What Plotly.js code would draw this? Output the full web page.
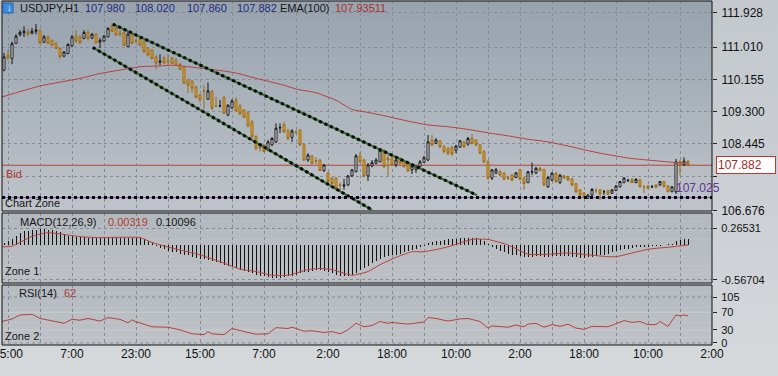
<!DOCTYPE html>
<html><head><meta charset="utf-8">
<script src="https://cdn.plot.ly/plotly-3.0.1.min.js"></script>
<style>
html,body{margin:0;padding:0;}
body{width:778px;height:376px;overflow:hidden;background:linear-gradient(to bottom,#c3c8cd 0%,#ccd0d4 55%,#d6d9dc 100%);}
#chart{width:778px;height:376px;}
</style></head><body><div id="chart"></div>
<script>
// ---------- DATA (USDJPY H1), candle index -1 .. 170 ----------
const openP = [110.40,110.80,110.71,111.11,111.33,111.39,111.41,111.38,111.43,111.44,111.14,111.27,111.18,111.11,110.97,110.77,110.84,111.04,111.30,111.27,111.24,111.40,111.25,111.35,111.14,111.17,111.28,111.57,111.50,111.38,111.39,111.02,111.35,111.18,111.21,111.15,110.99,110.93,110.75,110.61,110.71,110.64,110.71,110.65,110.55,110.47,110.14,110.11,109.96,109.74,109.85,109.63,109.83,109.45,109.45,109.68,109.21,109.40,109.61,109.45,109.34,109.27,109.03,108.64,108.36,108.42,108.28,108.42,108.50,108.87,108.95,108.81,108.62,108.76,108.81,108.42,108.02,108.13,108.00,108.02,107.74,107.68,107.54,107.54,107.36,107.33,107.36,107.60,107.71,108.13,108.02,107.60,107.86,107.93,107.97,108.28,108.07,108.06,107.89,108.06,107.97,107.95,107.76,107.77,107.84,107.96,108.02,108.55,108.46,108.53,108.37,108.33,108.35,108.28,108.36,108.50,108.44,108.59,108.55,108.42,108.24,107.97,107.54,107.67,107.71,107.67,107.55,107.62,107.56,107.77,107.54,107.42,107.70,107.67,107.80,107.77,107.31,107.49,107.67,107.42,107.60,107.58,107.52,107.40,107.23,107.15,107.01,107.09,107.21,107.23,107.18,107.21,107.14,107.21,107.31,107.42,107.47,107.51,107.42,107.49,107.31,107.33,107.31,107.36,107.36,107.45,107.33,107.18,107.18,107.97,107.89,107.98];
const highP = [110.86,110.93,111.15,111.35,111.46,111.56,111.49,111.51,111.62,111.49,111.33,111.33,111.22,111.14,111.01,110.90,111.11,111.33,111.46,111.33,111.46,111.46,111.38,111.38,111.25,111.33,111.54,111.64,111.54,111.46,111.43,111.41,111.38,111.22,111.25,111.19,111.01,110.96,110.80,110.82,110.77,110.82,110.75,110.72,110.59,110.51,110.16,110.14,109.98,109.77,110.00,110.07,109.87,109.69,109.61,109.71,109.50,109.63,109.68,109.50,109.37,109.32,109.08,108.68,108.47,108.44,108.55,108.63,108.99,108.99,109.03,108.84,108.84,108.81,108.84,108.44,108.20,108.15,108.10,108.05,107.91,107.70,107.57,107.57,107.42,107.52,107.62,107.78,108.18,108.24,108.05,107.94,108.02,108.07,108.31,108.31,108.15,108.13,108.07,108.10,108.02,107.97,107.89,107.89,108.02,108.13,108.68,108.68,108.60,108.55,108.42,108.36,108.39,108.42,108.55,108.52,108.63,108.71,108.57,108.44,108.28,108.02,107.78,107.81,107.76,107.70,107.60,107.65,107.70,107.78,107.57,107.73,107.95,107.84,107.84,107.78,107.60,107.70,107.70,107.65,107.62,107.60,107.54,107.41,107.25,107.17,107.12,107.28,107.28,107.25,107.23,107.23,107.25,107.36,107.46,107.57,107.52,107.54,107.54,107.52,107.36,107.36,107.36,107.38,107.46,107.46,107.36,107.33,108.05,108.02,108.09,108.02];
const lowP = [110.37,110.67,110.56,111.09,111.30,111.28,111.30,111.35,111.35,111.09,111.12,111.09,111.04,110.96,110.71,110.74,110.82,111.01,111.12,111.09,111.22,111.19,111.22,111.11,110.98,111.14,111.27,111.41,111.30,111.30,111.04,111.01,111.09,111.12,111.04,110.85,110.77,110.69,110.42,110.53,110.56,110.51,110.56,110.51,110.40,110.03,109.79,109.80,109.66,109.55,109.37,109.61,109.34,109.42,109.41,109.24,109.18,109.38,109.30,109.21,109.13,108.89,108.60,108.28,108.24,108.23,108.26,108.39,108.47,108.73,108.73,108.55,108.50,108.71,108.39,107.99,107.97,107.91,107.91,107.73,107.70,107.41,107.36,107.23,107.18,107.23,107.33,107.57,107.70,107.94,107.57,107.47,107.83,107.91,107.97,107.81,107.60,107.86,107.83,107.91,107.83,107.70,107.65,107.68,107.83,107.94,107.99,108.39,108.44,108.34,108.20,108.15,108.13,108.20,108.34,108.34,108.40,108.44,108.39,108.18,107.94,107.49,107.49,107.65,107.60,107.49,107.49,107.46,107.54,107.49,107.23,107.41,107.62,107.65,107.73,107.33,107.28,107.46,107.41,107.39,107.52,107.46,107.33,107.15,107.07,107.01,106.99,107.07,107.15,106.96,107.09,107.09,107.12,107.20,107.30,107.41,107.44,107.41,107.41,107.30,107.15,107.25,107.28,107.28,107.33,107.30,107.17,107.17,107.12,107.62,107.86,107.86];
const closeP = [110.75,110.72,111.10,111.30,111.40,111.43,111.35,111.43,111.46,111.12,111.28,111.11,111.06,110.97,110.75,110.88,111.08,111.28,111.17,111.13,111.40,111.24,111.35,111.12,111.19,111.30,111.50,111.43,111.33,111.35,111.06,111.35,111.11,111.17,111.06,110.89,110.80,110.71,110.58,110.64,110.59,110.63,110.58,110.53,110.42,110.05,110.00,109.92,109.68,109.61,109.84,109.85,109.39,109.44,109.46,109.26,109.47,109.58,109.32,109.24,109.15,108.92,108.64,108.33,108.34,108.24,108.50,108.59,108.86,108.88,108.77,108.59,108.79,108.75,108.42,108.02,108.15,107.93,107.99,107.74,107.89,107.45,107.40,107.27,107.35,107.36,107.60,107.76,108.13,107.97,107.60,107.89,107.95,108.02,108.28,107.84,108.02,107.89,108.02,107.93,107.84,107.73,107.86,107.86,107.97,108.08,108.50,108.42,108.55,108.37,108.24,108.20,108.18,108.39,108.53,108.37,108.59,108.46,108.42,108.20,107.97,107.54,107.76,107.76,107.62,107.51,107.54,107.49,107.68,107.51,107.40,107.71,107.71,107.80,107.74,107.36,107.56,107.67,107.45,107.62,107.54,107.49,107.36,107.18,107.09,107.03,107.09,107.24,107.21,107.12,107.18,107.12,107.23,107.33,107.45,107.54,107.48,107.42,107.51,107.31,107.31,107.27,107.31,107.30,107.45,107.31,107.18,107.31,107.97,107.89,107.99,107.88];

// EMA(100) read at sample candles
const emaIdx = [-1.5,8,18,23,28,33,38,41,45,50,55,58,61,69,72,77,82,86,90,95,100,105,110,115,120,125,130,135,140,148,156,162,166,170];
const emaVal = [109.69,109.98,110.18,110.31,110.40,110.49,110.51,110.53,110.49,110.43,110.36,110.30,110.21,110.00,109.90,109.80,109.60,109.36,109.28,109.17,109.05,108.95,108.90,108.83,108.74,108.66,108.57,108.50,108.39,108.20,108.06,108.00,107.96,107.94];

// MACD(12,26,9): main (histogram) per candle, signal line at sample candles
const macdMain = [0.04,0.07,0.10,0.15,0.19,0.22,0.23,0.24,0.25,0.26,0.26,0.25,0.24,0.23,0.21,0.18,0.15,0.14,0.13,0.13,0.13,
 0.12,0.13,0.12,0.12,0.13,0.13,0.13,0.12,0.12,0.12,0.12,0.12,0.12,
 0.11,0.09,0.06,0.03,
 -0.01,-0.05,-0.07,-0.09,-0.11,-0.12,-0.14,-0.16,-0.17,-0.19,-0.21,-0.22,-0.23,-0.24,-0.26,-0.28,-0.30,-0.32,-0.34,-0.36,-0.38,-0.40,-0.42,-0.43,-0.45,-0.48,-0.50,-0.51,-0.52,-0.53,-0.54,-0.53,-0.52,-0.51,-0.50,-0.48,-0.46,-0.44,-0.43,-0.42,-0.41,-0.40,-0.42,-0.44,-0.46,-0.48,-0.50,-0.51,-0.51,-0.49,-0.45,-0.41,-0.38,-0.34,-0.30,-0.26,-0.22,-0.19,-0.18,-0.17,-0.16,-0.14,-0.12,-0.10,-0.08,-0.06,-0.04,-0.01,
 0.03,0.05,0.06,0.07,0.08,0.09,0.10,0.10,0.11,0.11,0.12,0.12,0.11,0.10,0.06,0.01,-0.04,-0.07,-0.10,-0.12,-0.14,-0.16,-0.17,-0.18,-0.19,-0.19,-0.19,-0.18,-0.18,-0.19,-0.19,-0.18,-0.18,-0.18,-0.18,-0.18,-0.19,-0.20,-0.21,-0.21,-0.20,-0.19,-0.18,-0.17,-0.16,-0.14,-0.12,-0.10,-0.08,-0.07,-0.06,-0.05,-0.04,-0.04,-0.03,-0.03,-0.02,-0.02,-0.01,0.00,0.01,0.02,0.06,0.08,0.09,0.10];
const signalIdx = [-1.5,1,6,10,15,19,23,33,36,41,48,53,58,62,66,70,75,78,81,86,90,93,97,101,104,110,116,120,125,130,135,140,145,150,152,160,166,170];
const signalVal = [-0.03,-0.02,0.14,0.20,0.16,0.13,0.12,0.12,0.04,-0.05,-0.16,-0.27,-0.39,-0.43,-0.49,-0.49,-0.40,-0.38,-0.40,-0.49,-0.43,-0.32,-0.20,-0.11,-0.11,-0.03,0.09,0.09,0.00,-0.15,-0.15,-0.13,-0.16,-0.19,-0.19,-0.07,-0.03,0.00];

// RSI(14) at sample candles
const rsiIdx = [-1.5,1,3,6,8,10,14,16,18,20,23,25,28,30,31,32,33,36,40,43,46,49,50,51,54,56,58,60,62,65,67,70,71,74,76,79,81,83,85,87,89,91,93,95,96,100,104,105,107,110,113,115,118,120,121,125,127,129,130,132,134,136,138,140,142,144,146,150,154,156,158,160,162,163,165,167,168,169,170];
const rsiVal = [49,55,64,65.5,56,52,45,54,52,56,50,58,54,46,53,48,46,37,36,30,21,19,26,21,19,33,28,24,20,21,35,33,36,27,28,24,26,21,30,45,37,40,49,45,47,43,48,58,56,50,55,56,49,34,39,36,41,37,43,45,36,42,38,43,34,31,38,37,51,47,49,42,42,49,38,64,62,64,62];

// Levels and trend lines
const bidPrice = 107.882;
const zonePrice = 107.025;
const upperTrendIdx = [26.2, 117.2], upperTrendPx = [111.62, 107.09];
const lowerTrendIdx = [21.2, 91.0],  lowerTrendPx = [111.00, 106.70];

// Axis labels
const timeLabels = ['15:00','7:00','23:00','15:00','7:00','2:00','18:00','10:00','2:00','18:00','10:00','2:00'];
const priceTicks = [111.928,111.010,110.155,109.300,108.445,107.590,106.676];
const priceTickText = ['111.928','111.010','110.155','109.300','108.445','','106.676'];
const macdTicks = [0.26531,-0.56704];
const macdLast = ['0.00319','0.10096'];
const rsiTicks = [105,70,30,0];
const rsiLast = '62';
const header = {symbol:'USDJPY,H1', o:'107.980', h:'108.020', l:'107.860', c:'107.882', ema:'107.93511'};

// ---------- BUILD ----------
const idx = openP.map((_,k)=>k-1);
const gridTicks = [], gridText = [];
for (let k=0;k<=22;k++){ gridTicks.push(k*8); gridText.push(k%2===0 ? timeLabels[k/2] : ''); }

const fx = px => (px-2)/710;
const fy = py => (345-py)/344;
const FONT = 'Liberation Sans, Arial, sans-serif';

const traces = [
 {type:'candlestick', x:idx, open:openP, high:highP, low:lowP, close:closeP, xaxis:'x', yaxis:'y',
  increasing:{line:{color:'#151515',width:1}, fillcolor:'#ffffff'},
  decreasing:{line:{color:'#9c6a14',width:1}, fillcolor:'#f0aa2a'},
  whiskerwidth:0, hoverinfo:'skip', showlegend:false},
 {type:'scatter', mode:'lines', x:emaIdx, y:emaVal, xaxis:'x', yaxis:'y', line:{color:'#b8403c', width:1, shape:'spline', smoothing:0.6}, hoverinfo:'skip', showlegend:false},
 {type:'scatter', mode:'lines', x:upperTrendIdx, y:upperTrendPx, xaxis:'x', yaxis:'y', line:{color:'#2f6b2a', width:2}, hoverinfo:'skip', showlegend:false},
 {type:'scatter', mode:'lines', x:upperTrendIdx, y:upperTrendPx, xaxis:'x', yaxis:'y', line:{color:'#0a0a0a', width:3, dash:'dot'}, hoverinfo:'skip', showlegend:false},
 {type:'scatter', mode:'lines', x:lowerTrendIdx, y:lowerTrendPx, xaxis:'x', yaxis:'y', line:{color:'#2f6b2a', width:2}, hoverinfo:'skip', showlegend:false},
 {type:'scatter', mode:'lines', x:lowerTrendIdx, y:lowerTrendPx, xaxis:'x', yaxis:'y', line:{color:'#0a0a0a', width:3, dash:'dot'}, hoverinfo:'skip', showlegend:false},
 {type:'bar', x:idx, y:macdMain, xaxis:'x2', yaxis:'y2', width:0.25, marker:{color:'#111111', line:{width:0}}, hoverinfo:'skip', showlegend:false},
 {type:'scatter', mode:'lines', x:signalIdx, y:signalVal, xaxis:'x2', yaxis:'y2', line:{color:'#b8403c', width:1, shape:'spline', smoothing:0.5}, hoverinfo:'skip', showlegend:false},
 {type:'scatter', mode:'lines', x:rsiIdx, y:rsiVal, xaxis:'x3', yaxis:'y3', line:{color:'#b8403c', width:1}, hoverinfo:'skip', showlegend:false}
];

function hex(c){return [parseInt(c.slice(1,3),16),parseInt(c.slice(3,5),16),parseInt(c.slice(5,7),16)];}
function mix(a,b,t){const A=hex(a),B=hex(b);return 'rgb('+A.map((v,i)=>Math.round(v+(B[i]-v)*t)).join(',')+')';}
const shapes = [];
function pane(xa, ya, top, bot, n){
  for(let k=0;k<n;k++){
    shapes.push({type:'rect', xref:xa+' domain', yref:ya+' domain', x0:0, x1:1, y0:k/n, y1:(k+1)/n,
      fillcolor:mix(bot, top, (k+0.5)/n), line:{width:0}, layer:'below'});
  }
}
pane('x','y','#97a2ae','#bfc4c9',30);
pane('x2','y2','#b2b8be','#bdc1c5',8);
pane('x3','y3','#b4bac0','#bfc3c7',8);

// RSI level lines
[105,0].forEach(v=>shapes.push({type:'line', xref:'x3 domain', yref:'y3', x0:0, x1:1, y0:v, y1:v, line:{color:'#858c95', width:1, dash:'3px,3px'}, layer:'below'}));
[70,30].forEach(v=>shapes.push({type:'line', xref:'x3 domain', yref:'y3', x0:0, x1:1, y0:v, y1:v, line:{color:'#c8ccd0', width:1}, layer:'below'}));

// Bid line and chart zone line
shapes.push({type:'line', xref:'x domain', yref:'y', x0:0, x1:1, y0:bidPrice, y1:bidPrice, line:{color:'#b8403c', width:1}, layer:'below'});
shapes.push({type:'line', xref:'x domain', yref:'y', x0:0, x1:1, y0:zonePrice, y1:zonePrice, line:{color:'#7a50b4', width:1}});
shapes.push({type:'line', xref:'x domain', yref:'y', x0:0, x1:1, y0:zonePrice, y1:zonePrice, line:{color:'#050505', width:3, dash:'dot'}});

// pane borders
[['x','y'],['x2','y2'],['x3','y3']].forEach(([a,b])=>shapes.push({type:'rect', xref:a+' domain', yref:b+' domain', x0:0,x1:1,y0:0,y1:1, line:{color:'#111111', width:1}, fillcolor:'rgba(0,0,0,0)'}));

// header icon
shapes.push({type:'rect', xref:'paper', yref:'paper', x0:fx(3), x1:fx(13), y0:fy(13), y1:fy(3), fillcolor:'#3a8ede', line:{color:'#2565a8', width:1}});

const ann = [];
function txt(t, px, py, color, size){
  ann.push({text:t, xref:'paper', yref:'paper', x:fx(px), y:fy(py), xanchor:'left', yanchor:'middle', showarrow:false,
    font:{family:FONT, size:size||11, color:color||'#111'}});
}
txt('↓', 4.5, 8, '#ffffff', 9);
txt(header.symbol, 18, 8, '#161616');
txt(header.o, 83, 8, '#1e2b7e');
txt(header.h, 133, 8, '#1e2b7e');
txt(header.l, 185, 8, '#1e2b7e');
txt(header.c, 235, 8, '#1e2b7e');
txt('EMA(100)', 278, 8, '#161616');
txt(header.ema, 333, 8, '#a8322e');
txt('Bid', 4, 174, '#b03a36');
txt('Chart Zone', 3, 203, '#161616');
txt(zonePrice.toFixed(3), 674, 188, '#5e3596', 12);
txt('MACD(12,26,9)', 18, 222, '#161616');
txt(macdLast[0], 106, 222, '#b03a36');
txt(macdLast[1], 154, 222, '#161616');
txt('Zone 1', 3, 271, '#161616');
txt('RSI(14)', 17, 293, '#161616');
txt(rsiLast, 62, 293, '#b03a36');
txt('Zone 2', 3, 336, '#161616');
// bid price box on the axis
ann.push({text:bidPrice.toFixed(3), xref:'paper', yref:'y', x:fx(716), y:bidPrice, xanchor:'left', yanchor:'middle', showarrow:false,
  font:{family:FONT, size:12, color:'#a02a2a'}, bgcolor:'#ffffff', bordercolor:'#c0392f', borderwidth:1, borderpad:1, width:56, align:'left'});

const xBase = {range:[-1.5,176], tickvals:gridTicks, ticktext:gridText, showgrid:true, gridcolor:'#858c95', griddash:'3px,3px', gridwidth:1,
  zeroline:false, showline:false, ticks:'', fixedrange:true, ticklabeloverflow:'allow'};
const yBase = {side:'right', ticks:'outside', ticklen:4, tickcolor:'#222', showgrid:true, gridcolor:'#858c95', griddash:'3px,3px', gridwidth:1,
  zeroline:false, showline:false, tickfont:{family:FONT, size:11, color:'#111'}, ticklabelstandoff:2, fixedrange:true};

const layout = {
  width:778, height:376, margin:{l:2, r:66, t:1, b:31},
  paper_bgcolor:'rgba(0,0,0,0)', plot_bgcolor:'rgba(0,0,0,0)', showlegend:false, bargap:0,
  xaxis: Object.assign({}, xBase, {anchor:'y', showticklabels:false, rangeslider:{visible:false}}),
  xaxis2: Object.assign({}, xBase, {anchor:'y2', matches:'x', showticklabels:false}),
  xaxis3: Object.assign({}, xBase, {anchor:'y3', matches:'x', showticklabels:true, tickfont:{family:FONT, size:12, color:'#111'}}),
  yaxis: Object.assign({}, yBase, {anchor:'x', domain:[fy(211), 1], range:[106.67, 112.23], tickvals:priceTicks, ticktext:priceTickText, tickfont:{family:FONT, size:12, color:'#111'}}),
  yaxis2: Object.assign({}, yBase, {anchor:'x2', domain:[fy(283), fy(213)], range:[-0.616, 0.518], tickvals:macdTicks, ticktext:macdTicks.map(v=>v.toFixed(5))}),
  yaxis3: Object.assign({}, yBase, {anchor:'x3', domain:[0, fy(285)], range:[-4.6, 132.4], tickvals:rsiTicks, showgrid:false}),
  shapes: shapes, annotations: ann
};
Plotly.newPlot('chart', traces, layout, {staticPlot:true, displayModeBar:false});
</script></body></html>
